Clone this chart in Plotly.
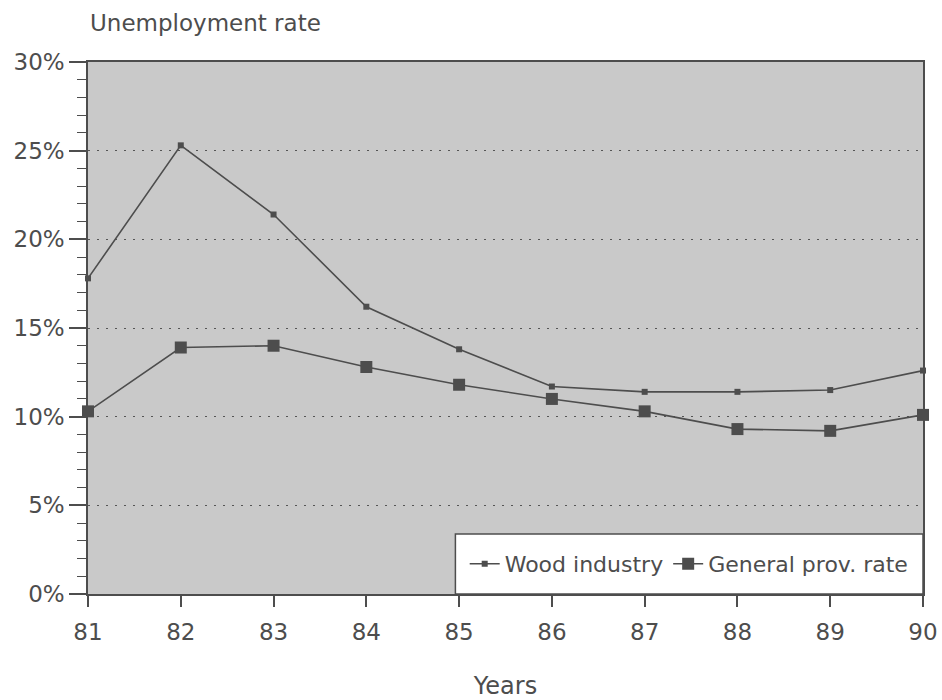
import plotly.graph_objects as go

# Years (two-digit) and unemployment rates in percent
years = [81, 82, 83, 84, 85, 86, 87, 88, 89, 90]
wood_industry = [17.8, 25.3, 21.4, 16.2, 13.8, 11.7, 11.4, 11.4, 11.5, 12.6]
general_prov_rate = [10.3, 13.9, 14.0, 12.8, 11.8, 11.0, 10.3, 9.3, 9.2, 10.1]
y_ticks = [0, 5, 10, 15, 20, 25, 30]
y_tick_labels = [f"{v}%" for v in y_ticks]
x_tick_labels = [str(y) for y in years]

ink = "#4d4d4d"
font_family = "DejaVu Sans, Verdana, sans-serif"

# white key panel in the lower-right corner of the plot area (paper fractions)
key_left, key_top = 0.44, 0.113

fig = go.Figure()
fig.add_trace(go.Scatter(
    x=years, y=wood_industry, name="Wood industry",
    mode="lines+markers",
    line=dict(color=ink, width=1.6),
    marker=dict(symbol="square", size=6, color=ink),
    cliponaxis=False,
))
fig.add_trace(go.Scatter(
    x=years, y=general_prov_rate, name="General prov. rate",
    mode="lines+markers",
    line=dict(color=ink, width=1.6),
    marker=dict(symbol="square", size=12, color=ink),
    cliponaxis=False,
))

fig.add_shape(
    type="rect", xref="paper", yref="paper",
    x0=key_left, x1=1, y0=0, y1=key_top,
    fillcolor="white", line=dict(color=ink, width=1.5), layer="above",
)

fig.update_layout(
    width=942, height=700,
    margin=dict(l=88, r=19, t=62, b=106, autoexpand=False),
    paper_bgcolor="white",
    plot_bgcolor="#c9c9c9",
    font=dict(family=font_family, size=23, color=ink),
    showlegend=True,
    legend=dict(
        x=(key_left + 1) / 2, y=key_top / 2, xanchor="center", yanchor="middle",
        orientation="h",
        bgcolor="rgba(0,0,0,0)", borderwidth=0,
        font=dict(size=22, color=ink),
        itemwidth=30,
    ),
    annotations=[dict(
        text="Unemployment rate", xref="paper", yref="paper",
        x=0, y=1, xanchor="left", yanchor="bottom", yshift=24,
        showarrow=False, font=dict(size=23, color=ink),
    )],
)

fig.update_xaxes(
    range=[81, 90], tickmode="array", tickvals=years, ticktext=x_tick_labels,
    automargin=False,
    showgrid=False, zeroline=False,
    showline=True, linecolor=ink, linewidth=1.5, mirror=True,
    ticks="outside", ticklen=11, tickwidth=1.5, tickcolor=ink,
    ticklabelstandoff=6,
    tickfont=dict(size=23),
    title=dict(text="Years", font=dict(size=24), standoff=34),
)
fig.update_yaxes(
    range=[0, 30], tickmode="array", tickvals=y_ticks, ticktext=y_tick_labels,
    automargin=False,
    showgrid=True, gridcolor="#555555", gridwidth=1.3, griddash="2px,7px",
    zeroline=False,
    showline=True, linecolor=ink, linewidth=1.5, mirror=True,
    ticks="outside", ticklen=17, tickwidth=1.5, tickcolor=ink,
    tickfont=dict(size=23),
    minor=dict(dtick=1, ticks="outside", ticklen=9, tickcolor=ink,
               tickwidth=1.2, showgrid=False),
)

fig.write_html("out.html")
